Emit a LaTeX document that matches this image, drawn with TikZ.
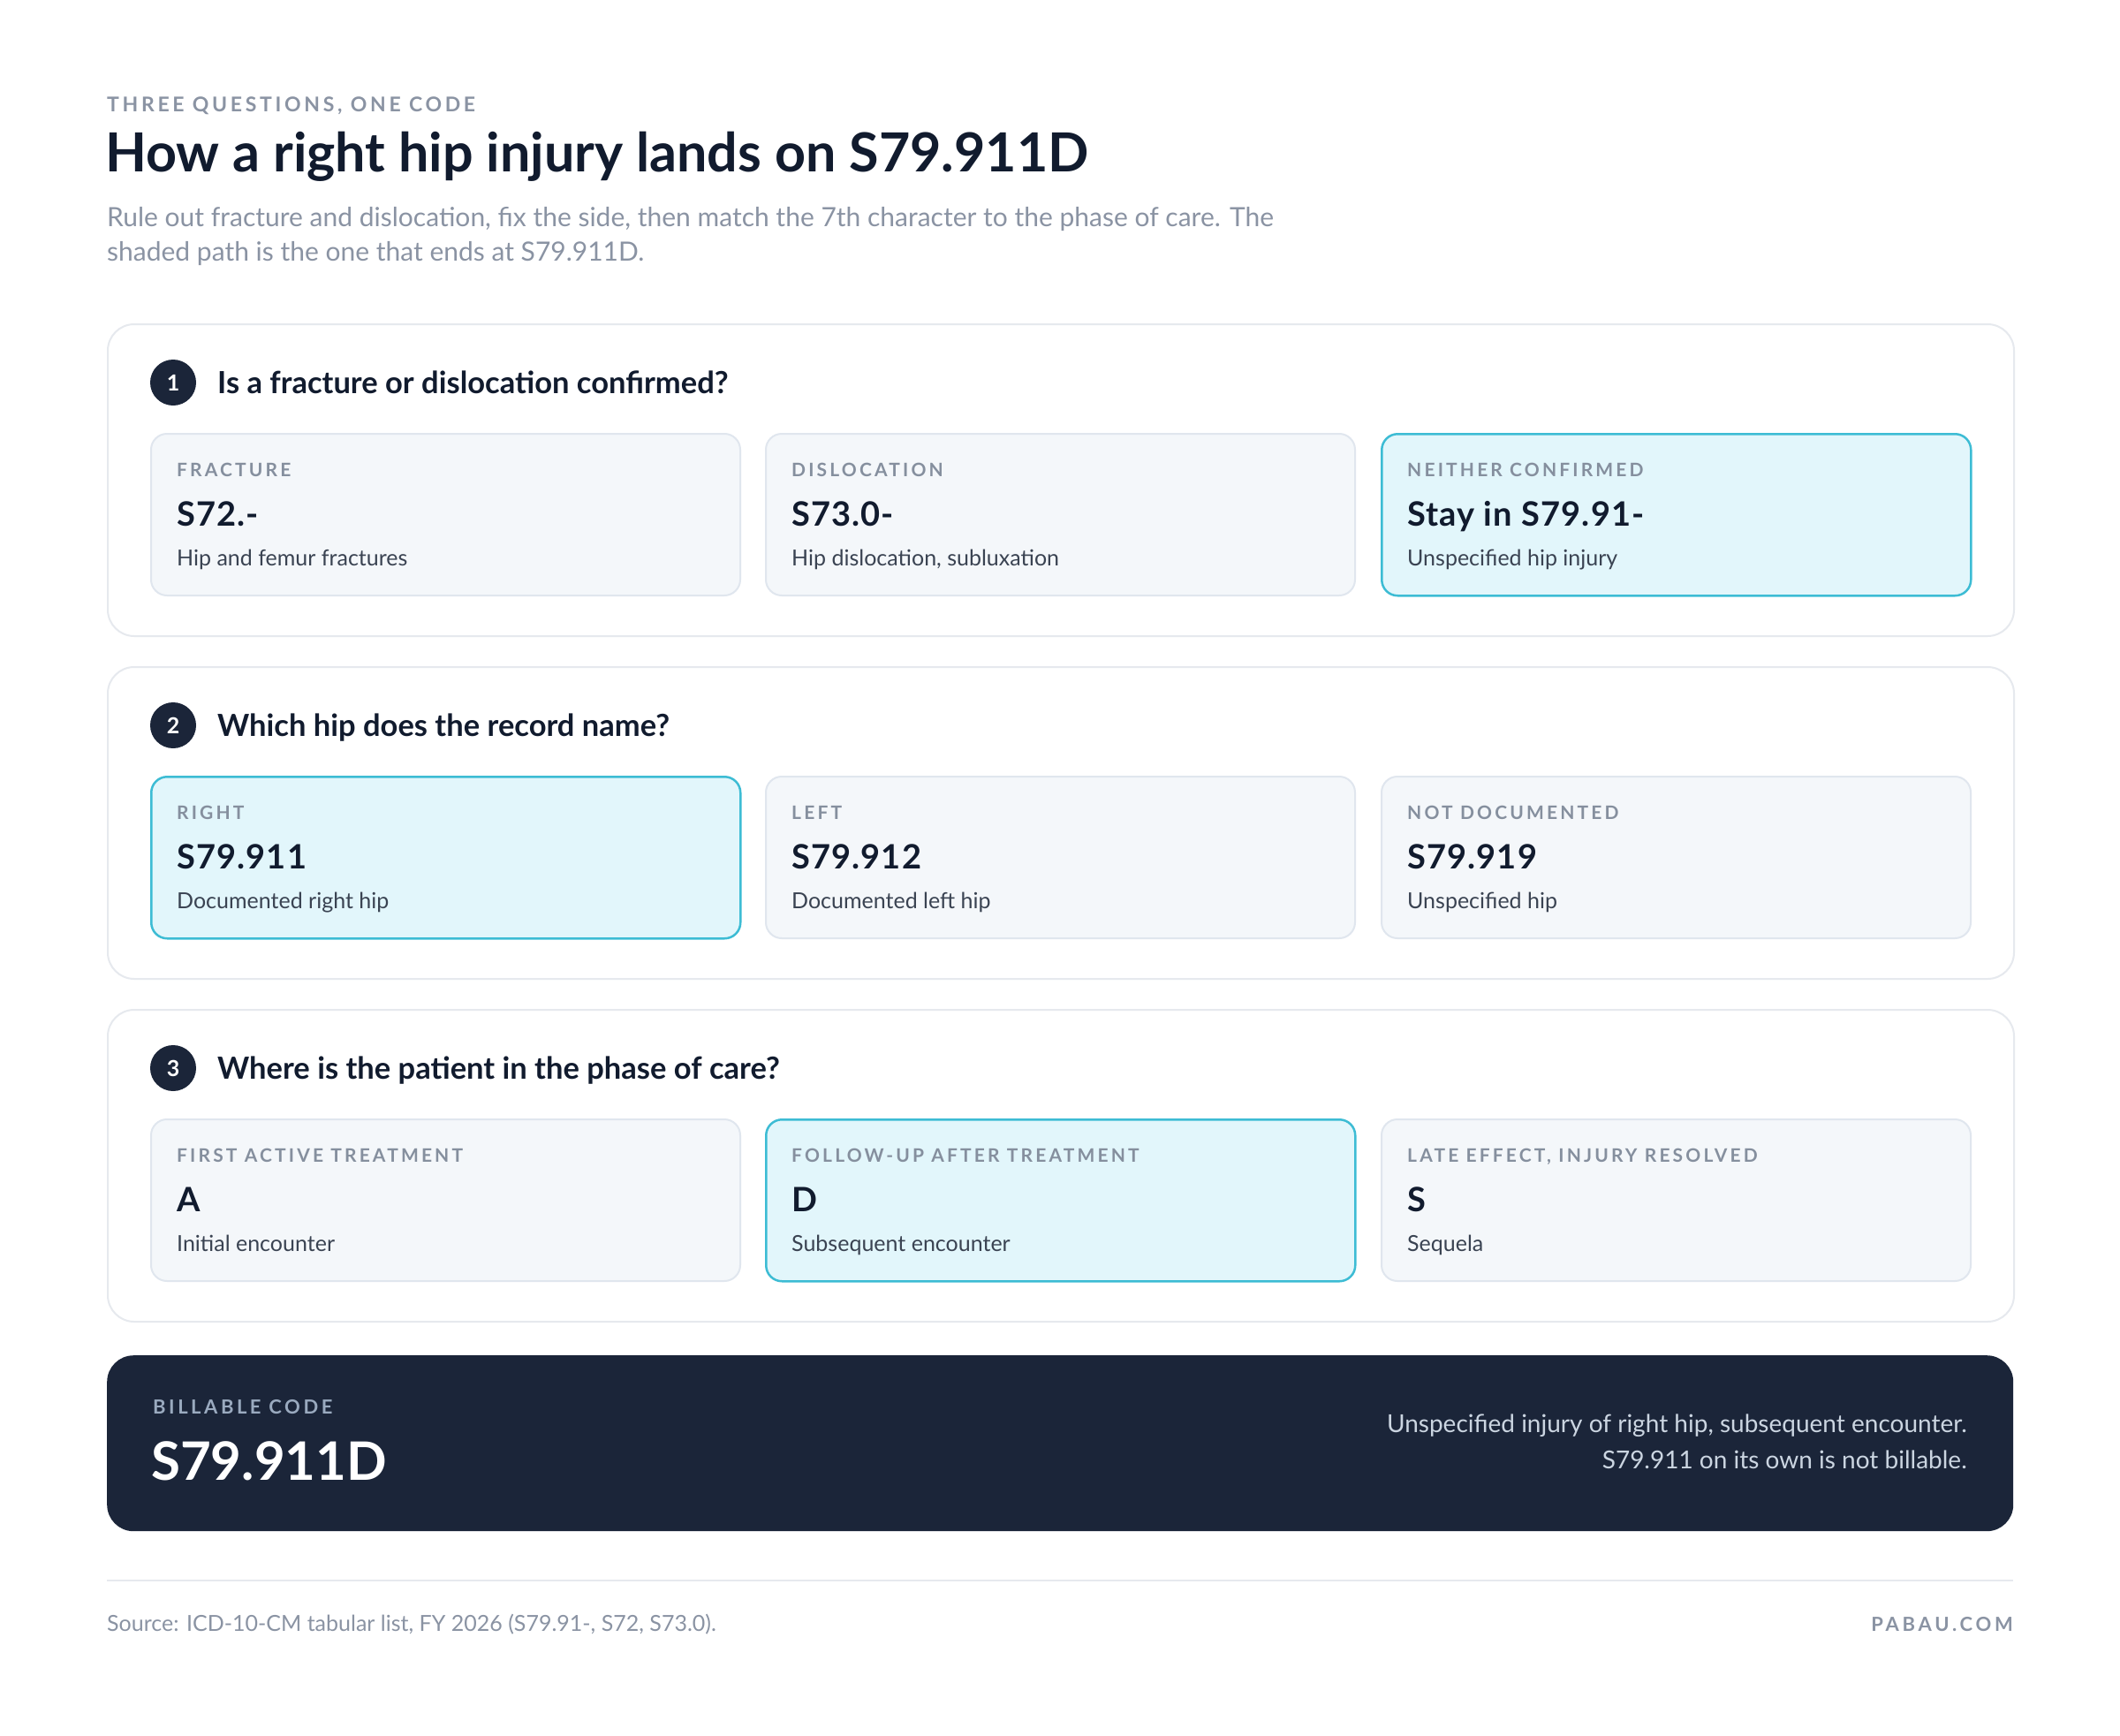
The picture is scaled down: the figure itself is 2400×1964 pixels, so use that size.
\documentclass[tikz,border=0pt]{standalone}
\usepackage{fontspec}
\setmainfont{Lato}
\usetikzlibrary{calc}
\definecolor{navy}{HTML}{1B2539}
\definecolor{ink}{HTML}{111B2E}
\definecolor{mute}{HTML}{8A93A3}
\definecolor{lab}{HTML}{858F9E}
\definecolor{desc}{HTML}{3A4352}
\definecolor{panelborder}{HTML}{E6E9EE}
\definecolor{cardborder}{HTML}{E0E6EE}
\definecolor{cardfill}{HTML}{F4F7FA}
\definecolor{hifill}{HTML}{E2F6FB}
\definecolor{hiborder}{HTML}{3DBCD4}
\definecolor{billlab}{HTML}{9AAABF}
\definecolor{billtxt}{HTML}{CBD5E1}
\newcommand\fs[1]{\fontsize{#1}{#1}\selectfont}
\tikzset{
  panel/.style={draw=panelborder, line width=2pt, fill=white, rounded corners=30pt, minimum width=2158pt, minimum height=353pt, anchor=north west, inner sep=0pt},
  card/.style={draw=cardborder, line width=2pt, fill=cardfill, rounded corners=18pt, minimum width=667pt, minimum height=183pt, anchor=north west, inner sep=0pt},
  hcard/.style={card, draw=hiborder, line width=2.5pt, fill=hifill},
  txt/.style={inner sep=0pt, anchor=base west},
  rtxt/.style={inner sep=0pt, anchor=base east},
  numc/.style={circle, fill=navy, minimum size=52pt, inner sep=0pt, text=white, font=\bfseries\fs{25}},
  qtxt/.style={txt, text=ink, font=\bfseries\fs{34.5}},
  labtxt/.style={txt, text=lab, font=\bfseries\fs{21}\addfontfeature{LetterSpace=15}},
  codetxt/.style={txt, text=ink, font=\bfseries\fs{38}\addfontfeature{LetterSpace=3}},
  desctxt/.style={txt, text=desc, font=\fs{25}},
}
% name, x, y, style, label, code, desc
\newcommand\mkcard[7]{%
  \node[#4] (#1) at (#2,#3) {};
  \node[labtxt] (#1-l) at ($(#1.north west)+(30,49)$) {#5};
  \node[codetxt] (#1-c) at ($(#1.north west)+(30,105)$) {#6};
  \node[desctxt] (#1-d) at ($(#1.north west)+(30,150)$) {#7};
}
\begin{document}
\begin{tikzpicture}[x=1pt,y=-1pt]
\useasboundingbox[fill=white] (0,0) rectangle (2400,1964);
% header
\node[txt, text=mute, font=\bfseries\fs{23}\addfontfeature{LetterSpace=16}] (eyebrow) at (121,127) {THREE QUESTIONS, ONE CODE};
\node[txt, text=ink, font=\bfseries\fs{61}] (title) at (119,195) {How a right hip injury lands on S79.911D};
\node[txt, text=mute, font=\fs{30}] (sub1) at (121,256) {Rule out fracture and dislocation, fix the side, then match the 7th character to the phase of care. The};
\node[txt, text=mute, font=\fs{30}] (sub2) at (121,295) {shaded path is the one that ends at S79.911D.};
% panel 1
\node[panel] (p1) at (121,366) {};
\node[numc] (n1) at (196,433) {1};
\node[qtxt] (q1) at (246,445) {Is a fracture or dislocation confirmed?};
\mkcard{c11}{170}{490}{card}{FRACTURE}{S72.-}{Hip and femur fractures}
\mkcard{c12}{866}{490}{card}{DISLOCATION}{S73.0-}{Hip dislocation, subluxation}
\mkcard{c13}{1563}{490}{hcard}{NEITHER CONFIRMED}{Stay in S79.91-}{Unspecified hip injury}
% panel 2
\node[panel] (p2) at (121,754) {};
\node[numc] (n2) at (196,821) {2};
\node[qtxt] (q2) at (246,833) {Which hip does the record name?};
\mkcard{c21}{170}{878}{hcard}{RIGHT}{S79.911}{Documented right hip}
\mkcard{c22}{866}{878}{card}{LEFT}{S79.912}{Documented left hip}
\mkcard{c23}{1563}{878}{card}{NOT DOCUMENTED}{S79.919}{Unspecified hip}
% panel 3
\node[panel] (p3) at (121,1142) {};
\node[numc] (n3) at (196,1209) {3};
\node[qtxt] (q3) at (246,1221) {Where is the patient in the phase of care?};
\mkcard{c31}{170}{1266}{card}{FIRST ACTIVE TREATMENT}{A}{Initial encounter}
\mkcard{c32}{866}{1266}{hcard}{FOLLOW-UP AFTER TREATMENT}{D}{Subsequent encounter}
\mkcard{c33}{1563}{1266}{card}{LATE EFFECT, INJURY RESOLVED}{S}{Sequela}
% result
\node[fill=navy, rounded corners=30pt, minimum width=2158pt, minimum height=199pt, anchor=north west, inner sep=0pt] (bill) at (121,1534) {};
\node[txt, text=billlab, font=\bfseries\fs{22}\addfontfeature{LetterSpace=16}] (billl) at (173,1600) {BILLABLE CODE};
\node[txt, text=white, font=\bfseries\fs{60}] (billc) at (171,1675) {S79.911D};
\node[rtxt, text=billtxt, font=\fs{28}] (bill1) at (2227,1621) {Unspecified injury of right hip, subsequent encounter.};
\node[rtxt, text=billtxt, font=\fs{28}] (bill2) at (2227,1662) {S79.911 on its own is not billable.};
% footer
\coordinate (fl) at (121,1789);
\coordinate (fr) at (2279,1789);
\draw[panelborder, line width=2pt] (fl) -- (fr);
\node[txt, text=mute, font=\fs{25}] (src) at (121,1846) {Source: ICD-10-CM tabular list, FY 2026 (S79.91-, S72, S73.0).};
\node[rtxt, text=mute, font=\bfseries\fs{22}\addfontfeature{LetterSpace=17}] (brand) at (2279,1846) {PABAU.COM};
\end{tikzpicture}
\end{document}
